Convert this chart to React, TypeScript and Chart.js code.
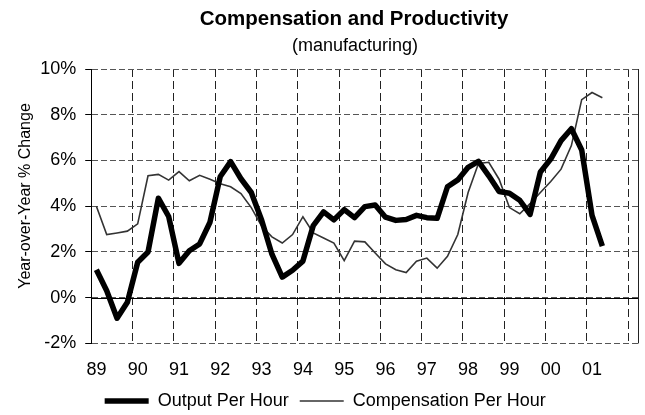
import React, { useEffect, useRef } from 'react';
import { Chart, registerables } from 'chart.js';

Chart.register(...registerables);

const FONT = '"Liberation Sans", Arial, Helvetica, sans-serif';

const TITLE = 'Compensation and Productivity';
const SUBTITLE = '(manufacturing)';
const Y_TITLE = 'Year-over-Year % Change';

const YEAR_LABELS = ['89', '90', '91', '92', '93', '94', '95', '96', '97', '98', '99', '00', '01'];
const QUARTERS = ['Q1', 'Q2', 'Q3', 'Q4'];
// quarterly categories 1989 Q1 .. 2002 Q1
const CATEGORIES = YEAR_LABELS.flatMap((y) => QUARTERS.map((q) => `${y} ${q}`)).concat(['02 Q1']);

const OUTPUT_PER_HOUR = [
  1.22, 0.3, -0.9, -0.2, 1.55, 2.0, 4.35, 3.55, 1.5, 2.05, 2.35, 3.3,
  5.3, 5.95, 5.2, 4.6, 3.4, 1.9, 0.9, 1.2, 1.6, 3.15, 3.75, 3.4,
  3.85, 3.5, 3.98, 4.05, 3.52, 3.38, 3.42, 3.6, 3.5, 3.47, 4.85, 5.15,
  5.7, 5.96, 5.33, 4.64, 4.57, 4.26, 3.64, 5.5, 6.06, 6.87, 7.39, 6.46,
  3.6, 2.25,
];

const COMPENSATION_PER_HOUR = [
  4.0, 2.76, 2.83, 2.91, 3.23, 5.33, 5.39, 5.14, 5.51, 5.11, 5.35, 5.18,
  4.98, 4.85, 4.55, 3.94, 3.13, 2.66, 2.39, 2.76, 3.54, 2.83, 2.61, 2.39,
  1.62, 2.47, 2.44, 1.95, 1.48, 1.22, 1.1, 1.59, 1.73, 1.29, 1.81, 2.76,
  4.6, 5.87, 5.92, 5.18, 3.94, 3.67, 4.11, 4.6, 5.08, 5.62, 6.65, 8.66,
  8.97, 8.74,
];

const Y_MIN = -2;
const Y_MAX = 10;
const Y_STEP = 2;

const framePlugin = {
  id: 'frame',
  beforeDatasetsDraw(chart: any) {
    const { ctx, chartArea: a, scales } = chart;
    const y = scales.y;
    ctx.save();
    ctx.setLineDash([]);
    ctx.lineWidth = 1;
    const y0 = Math.round(y.getPixelForValue(0)) + 0.5;
    ctx.strokeStyle = '#000';
    ctx.beginPath();
    ctx.moveTo(a.left, y0);
    ctx.lineTo(a.right, y0);
    ctx.stroke();
    const xr = Math.round(a.right) - 0.5;
    ctx.strokeStyle = '#222';
    ctx.beginPath();
    ctx.moveTo(xr, a.top);
    ctx.lineTo(xr, a.bottom);
    ctx.stroke();
    ctx.restore();
  },
  afterDraw(chart: any) {
    const { ctx } = chart;
    ctx.save();
    ctx.fillStyle = '#000';
    ctx.textAlign = 'center';
    ctx.textBaseline = 'alphabetic';
    ctx.font = `bold 20.5px ${FONT}`;
    ctx.fillText(TITLE, 354, 25);
    ctx.font = `18px ${FONT}`;
    ctx.fillText(SUBTITLE, 355, 51);
    // y-axis title (space reserved by the scale's own transparent title)
    ctx.font = `16px ${FONT}`;
    ctx.textBaseline = 'middle';
    ctx.translate(25.5, 196);
    ctx.rotate(-Math.PI / 2);
    ctx.fillText(Y_TITLE, 0, 0);
    ctx.restore();
  },
};

export default function App() {
  const canvasRef = useRef<HTMLCanvasElement | null>(null);

  useEffect(() => {
    document.body.style.margin = '0';
    const canvas = canvasRef.current;
    if (!canvas) return;
    Chart.defaults.font.family = FONT;
    Chart.defaults.color = '#000';
    const chart = new Chart(canvas, {
      type: 'line',
      data: {
        labels: CATEGORIES,
        datasets: [
          {
            label: 'Output Per Hour',
            data: OUTPUT_PER_HOUR,
            borderColor: '#000',
            backgroundColor: '#000',
            borderWidth: 5.5,
            pointRadius: 0,
            tension: 0,
            borderJoinStyle: 'round',
          },
          {
            label: 'Compensation Per Hour',
            data: COMPENSATION_PER_HOUR,
            borderColor: '#333',
            backgroundColor: '#333',
            borderWidth: 1.6,
            pointRadius: 0,
            tension: 0,
          },
        ],
      },
      options: {
        responsive: false,
        animation: false,
        layout: { padding: { left: 12, right: 6.5, top: 69, bottom: -5 } },
        plugins: {
          title: { display: false },
          tooltip: { enabled: false },
          legend: {
            display: true,
            position: 'bottom',
            labels: {
              usePointStyle: true,
              pointStyle: 'line',
              pointStyleWidth: 44,
              padding: 11,
              color: '#000',
              font: { size: 18, family: FONT },
            },
          },
        },
        scales: {
          x: {
            type: 'category',
            offset: true,
            border: { display: false, dash: [8, 4] },
            grid: {
              offset: true,
              drawTicks: true,
              tickLength: 16,
              tickColor: 'transparent',
              lineWidth: 1,
              color: (ctx: any) =>
                typeof ctx.index === 'number' && ctx.index % 4 === 0 ? '#222' : 'transparent',
            },
            ticks: {
              autoSkip: false,
              maxRotation: 0,
              minRotation: 0,
              padding: 0,
              color: '#000',
              font: { size: 18, family: FONT },
              callback: (_v: any, index: number) =>
                index % 4 === 0 && index / 4 < YEAR_LABELS.length ? YEAR_LABELS[index / 4] : '',
            },
          },
          y: {
            type: 'linear',
            min: Y_MIN,
            max: Y_MAX,
            border: { display: true, color: '#000', width: 1, dash: [6, 3] },
            grid: {
              color: '#555',
              lineWidth: 1,
              drawTicks: true,
              tickLength: 6,
              tickColor: '#000',
            },
            ticks: {
              stepSize: Y_STEP,
              padding: 9,
              color: '#000',
              font: { size: 18, family: FONT },
              callback: (v: any) => `${v}%`,
            },
            title: {
              display: true,
              text: Y_TITLE,
              color: 'transparent',
              font: { size: 16, family: FONT },
              padding: { top: 4, bottom: -4 },
            },
          },
        },
      },
      plugins: [framePlugin],
    });
    return () => chart.destroy();
  }, []);

  return (
    <div style={{ position: 'absolute', left: 0, top: 0, width: 645, height: 415 }}>
      <canvas ref={canvasRef} width={645} height={415} style={{ display: 'block' }} />
    </div>
  );
}
